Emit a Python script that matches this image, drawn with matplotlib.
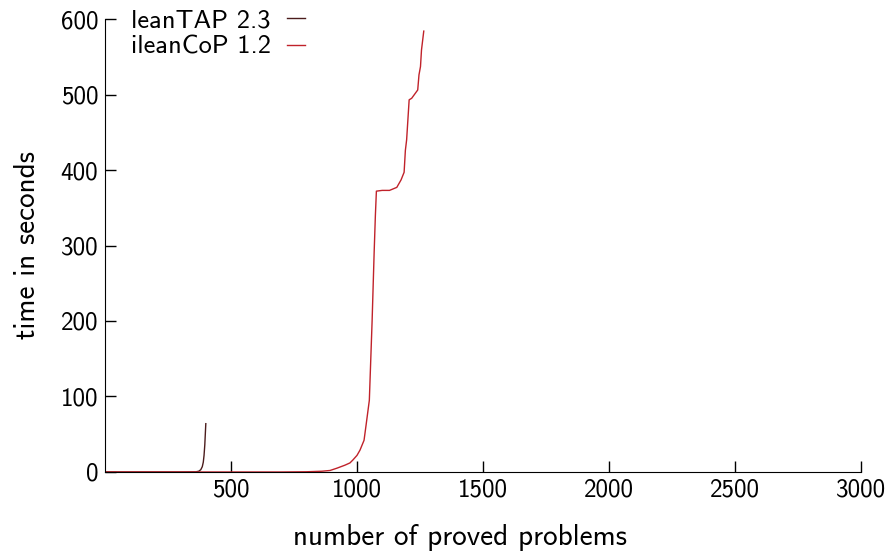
import matplotlib
matplotlib.use('Agg')
import numpy as np
import matplotlib.pyplot as plt

plt.rcParams['font.family'] = ['cmss10', 'DejaVu Sans']
plt.rcParams['font.size'] = 18

# leanTAP 2.3 (dark line)
lt_x = [0, 300, 360, 372, 380, 386, 390, 393, 396, 398, 400]
lt_y = [0, 0, 0.2, 1, 3, 7, 13, 22, 36, 50, 64]

# ileanCoP 1.2 (red line)
ic_x = [0, 700, 800, 860, 893, 920, 952, 972, 984, 1000, 1012, 1028, 1036,
        1049, 1060, 1068, 1073, 1077, 1100, 1129, 1158, 1175, 1187, 1192,
        1197, 1207, 1217, 1241, 1246, 1252, 1256, 1265]
ic_y = [0, 0, 0.3, 1, 2, 5, 9, 12, 16, 22, 29, 42, 62,
        95, 200, 290, 340, 372, 373, 373, 377, 387, 397, 426,
        440, 493, 495, 506, 526, 537, 559, 584]

fig = plt.figure(figsize=(8.93, 5.53), dpi=100)
ax = fig.add_axes([0.1176, 0.1465, 0.8465, 0.8191])

ax.plot(lt_x, lt_y, color='#4b1c1c', lw=1.0, label='leanTAP 2.3')
ax.plot(ic_x, ic_y, color='#c0222a', lw=1.0, label='ileanCoP 1.2')

ax.set_xlim(0, 3000)
ax.set_ylim(0, 600)
ax.set_xticks([500, 1000, 1500, 2000, 2500, 3000])
ax.set_yticks([0, 100, 200, 300, 400, 500, 600])
ax.tick_params(direction='in', length=8, width=1, pad=5)
ax.spines['top'].set_visible(False)
ax.spines['right'].set_visible(False)

ax.set_xlabel('number of proved problems', fontsize=21)
ax.xaxis.set_label_coords(0.47, -0.115)
ax.set_ylabel('time in seconds', fontsize=21, labelpad=14)

ax.legend(loc='upper left', frameon=False, markerfirst=False, fontsize=19,
          handlelength=0.7, borderaxespad=0.0, bbox_to_anchor=(0.02, 1.045),
          labelspacing=0.1, handletextpad=0.6)

fig.savefig('out.png', dpi=100)
